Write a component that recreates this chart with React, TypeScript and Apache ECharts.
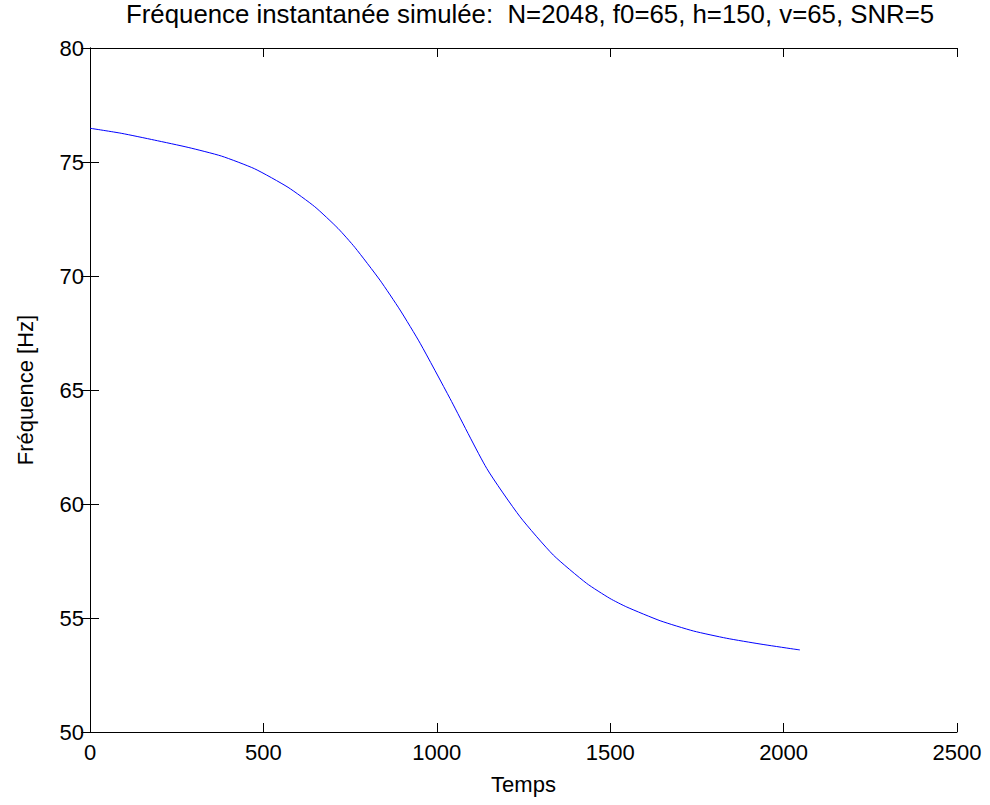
import React, { useEffect, useRef } from "react";
import * as echarts from "echarts";

const titleText = "Fréquence instantanée simulée:  N=2048, f0=65, h=150, v=65, SNR=5";
const xName = "Temps";
const yName = "Fréquence [Hz]";

const timeValues = [0, 90, 186, 283, 379, 475, 571, 648, 715, 764, 836, 894, 952, 1038, 1144, 1240, 1336, 1432, 1499, 1548, 1644, 1740, 1836, 1932, 2028, 2047];
const freqValues = [76.48, 76.26, 75.96, 75.64, 75.26, 74.7, 73.89, 73.04, 72.09, 71.25, 69.82, 68.51, 67.05, 64.63, 61.56, 59.44, 57.76, 56.52, 55.86, 55.48, 54.88, 54.43, 54.11, 53.86, 53.64, 53.6];

const xMin = 0, xMax = 2500, xStep = 500;
const yMin = 50, yMax = 80, yStep = 5;

const FONT = "'Liberation Sans', Arial, Helvetica, sans-serif";

export default function App() {
  const ref = useRef<HTMLDivElement>(null);
  useEffect(() => {
    if (!ref.current) return;
    const chart = echarts.init(ref.current, null, { renderer: "svg" });
    const axisLine = { show: true, lineStyle: { color: "#000", width: 1 } };
    const tick = { show: true, inside: true, length: 9, lineStyle: { color: "#000", width: 1 } };
    const label = { color: "#000", fontSize: 22, fontFamily: FONT, formatter: (v: number) => String(v) };
    chart.setOption({
      animation: false,
      backgroundColor: "#fff",
      title: {
        text: titleText,
        left: 121,
        top: -4,
        textStyle: { color: "#000", fontSize: 25.8, fontWeight: "normal", fontFamily: FONT },
      },
      grid: { left: 90, right: 33, top: 48, bottom: 73, outerBoundsMode: "none", containLabel: false },
      xAxis: [
        {
          type: "value", min: xMin, max: xMax, interval: xStep, position: "bottom",
          axisLine, axisTick: tick, splitLine: { show: false },
          axisLabel: { ...label, margin: 9 },
          name: xName, nameLocation: "middle", nameGap: 41,
          nameTextStyle: { color: "#000", fontSize: 22, fontFamily: FONT },
        },
        {
          type: "value", min: xMin, max: xMax, interval: xStep, position: "top",
          axisLine, axisTick: tick, splitLine: { show: false }, axisLabel: { show: false },
        },
      ],
      yAxis: [
        {
          type: "value", min: yMin, max: yMax, interval: yStep, position: "left",
          axisLine, axisTick: tick, splitLine: { show: false },
          axisLabel: { ...label, margin: 6 },
          name: yName, nameLocation: "middle", nameGap: 54,
          nameTextStyle: { color: "#000", fontSize: 22, fontFamily: FONT },
        },
        {
          type: "value", min: yMin, max: yMax, interval: yStep, position: "right",
          axisLine, axisTick: tick, splitLine: { show: false }, axisLabel: { show: false },
        },
      ],
      series: [
        {
          type: "line",
          xAxisIndex: 0,
          yAxisIndex: 0,
          data: timeValues.map((t, i) => [t, freqValues[i]]),
          showSymbol: false,
          symbol: "none",
          smooth: 0.2,
          lineStyle: { color: "#0000ff", width: 1 },
        },
      ],
    });
    return () => chart.dispose();
  }, []);
  return <div ref={ref} style={{ position: "fixed", left: 0, top: 0, width: 990, height: 805 }} />;
}
